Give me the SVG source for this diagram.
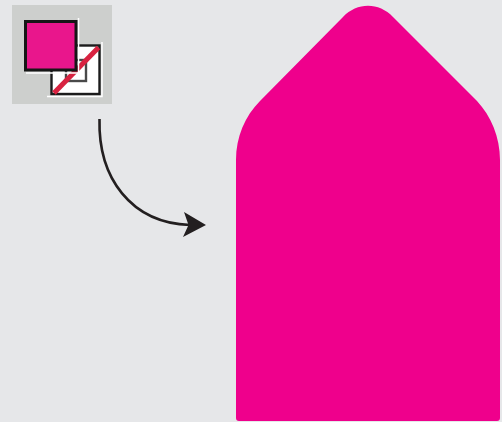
<svg xmlns="http://www.w3.org/2000/svg" width="502" height="422" viewBox="0 0 502 422">
  <defs><filter id="soft" x="-5%" y="-5%" width="110%" height="110%"><feGaussianBlur stdDeviation="0.7"/></filter></defs>
  <style>.k{stroke:#1a1a1a;stroke-width:2.400}.conn{fill:none;stroke:#231f20;stroke-width:2.600}</style>
  <rect width="502" height="422" fill="#e6e7e9"/>
  <g id="icon">
    <rect x="12" y="5" width="100" height="99" fill="#cdcfcd"/>
    <g filter="url(#soft)">
      <path d="M102 42V96.500H47" stroke="#fff" stroke-width="1.500" fill="none"/>
      <rect x="51.500" y="45.500" width="48" height="48.500" fill="#fff" class="k"/>
      <rect x="66" y="60" width="20" height="21" fill="#fff" stroke="#4a4a4a" stroke-width="2.400"/>
      <path d="M98.500 47.500L54 93" stroke="#d8213f" stroke-width="5" fill="none"/>
      <path d="M78.500 18V73H26" stroke="#fff" stroke-width="1.500" fill="none"/>
      <rect x="25.500" y="21.500" width="50.500" height="48.500" fill="#e9168c" stroke="#141414" stroke-width="3"/>
    </g>
  </g>
  <g id="connectors">
    <path class="conn" d="M99.500 119C98 178 131 223 190 225"/>
    <path d="M206 225L184 212L188.500 225L183 237Z" fill="#231f20"/>
  </g>
  <g id="shape">
    <path d="M236 160C236 137 245 116 260 101L343 17C357 2 379 2 393 17L477 101C491 116 500 137 500 160V418Q500 421 497 421H239Q236 421 236 418Z" fill="#ef008c"/>
  </g>
</svg>
